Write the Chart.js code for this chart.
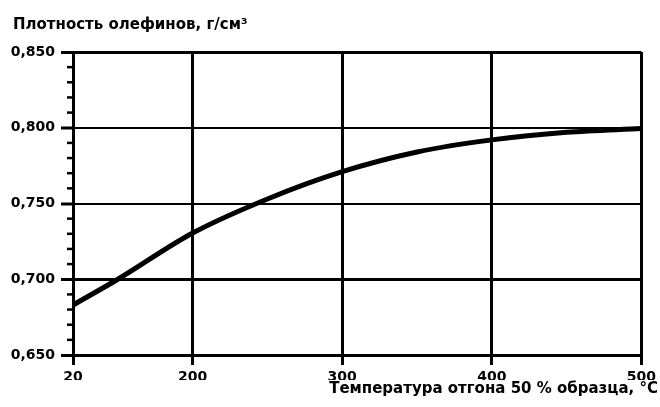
<!DOCTYPE html>
<html>
<head>
<meta charset="utf-8">
<script src="https://cdn.jsdelivr.net/npm/chart.js@4"></script>
<style>
  html, body { margin: 0; padding: 0; background: #fff; }
</style>
</head>
<body>
<canvas id="myChart" width="660" height="407"></canvas>
<script>
// values
const temperature = [120, 150, 200, 250, 300, 350, 400, 450, 500];
const density = [0.683, 0.7, 0.7305, 0.753, 0.771, 0.784, 0.792, 0.797, 0.7995];
const xTickValues = [120, 200, 300, 400, 500];
const xTickLabels = ["20", "200", "300", "400", "500"];
const yTickLabels = ["0,650", "0,700", "0,750", "0,800", "0,850"];
const yMin = 0.65;
const yMax = 0.85;
const yMinorStep = 0.01;

const tickFont = { family: "'DejaVu Sans', sans-serif", size: 14, weight: "bold" };
const titleFont = { family: "'DejaVu Sans', sans-serif", size: 15, weight: "bold" };

Chart.defaults.color = "#000";

// small ticks on the left axis between the labelled ones
const minorTicks = {
  id: "minorTicks",
  afterLayout(chart) {
    // move the axis title a little in from the page edge
    if (chart.titleBlock) chart.titleBlock.left = 13;
  },
  afterDraw(chart) {
    const scale = chart.scales.y;
    const ctx = chart.ctx;
    const count = Math.round((yMax - yMin) / yMinorStep);
    ctx.save();
    ctx.strokeStyle = "#000";
    ctx.lineWidth = 2.5;
    for (let i = 0; i <= count; i++) {
      if (i % 5 === 0) continue;
      const py = scale.getPixelForValue(yMin + i * yMinorStep);
      ctx.beginPath();
      ctx.moveTo(scale.right - 6, py);
      ctx.lineTo(scale.right, py);
      ctx.stroke();
    }
    ctx.restore();
  },
};

new Chart(document.getElementById("myChart"), {
  type: "line",
  data: {
    datasets: [
      {
        data: temperature.map((t, i) => ({ x: t, y: density[i] })),
        borderColor: "#000",
        borderWidth: 5,
        pointRadius: 0,
        cubicInterpolationMode: "monotone",
        fill: false,
      },
    ],
  },
  options: {
    responsive: false,
    animation: false,
    devicePixelRatio: 1,
    layout: { padding: { left: 0, right: 2, top: 0, bottom: 0 } },
    plugins: {
      legend: { display: false },
      tooltip: { enabled: false },
      title: {
        display: true,
        text: "Плотность олефинов, г/см³",
        align: "start",
        font: titleFont,
        padding: { top: 16, bottom: 18 },
      },
      subtitle: {
        display: true,
        position: "bottom",
        text: "Температура отгона 50 % образца, °С",
        align: "end",
        font: titleFont,
        padding: { top: 0, bottom: 9 },
      },
    },
    scales: {
      x: {
        type: "linear",
        min: xTickValues[0],
        max: xTickValues[xTickValues.length - 1],
        afterBuildTicks: (scale) => {
          scale.ticks = xTickValues.map((v) => ({ value: v }));
        },
        afterFit: (scale) => {
          scale.height = 25;
        },
        ticks: {
          font: tickFont,
          padding: 4,
          maxRotation: 0,
          callback: (value) => xTickLabels[xTickValues.indexOf(value)],
        },
        grid: {
          color: "#000",
          lineWidth: 3,
          tickLength: 10,
          tickWidth: 3,
        },
        border: { color: "#000", width: 3 },
      },
      y: {
        min: yMin,
        max: yMax,
        afterFit: (scale) => {
          scale.width = 73;
        },
        ticks: {
          stepSize: 0.05,
          font: tickFont,
          padding: 6,
          callback: (value, index) => yTickLabels[index],
        },
        grid: {
          color: "#000",
          lineWidth: (ctx) => {
            const v = ctx.tick ? Math.round(ctx.tick.value * 100) : 0;
            return v === 75 || v === 80 ? 2 : 3;
          },
          tickLength: 12,
          tickWidth: 3,
        },
        border: { color: "#000", width: 3 },
      },
      yRight: {
        position: "right",
        afterFit: (scale) => {
          scale.width = 16;
        },
        ticks: { display: false },
        grid: { display: false, drawTicks: false },
        border: { display: false },
      },
    },
  },
  plugins: [minorTicks],
});
</script>
</body>
</html>
